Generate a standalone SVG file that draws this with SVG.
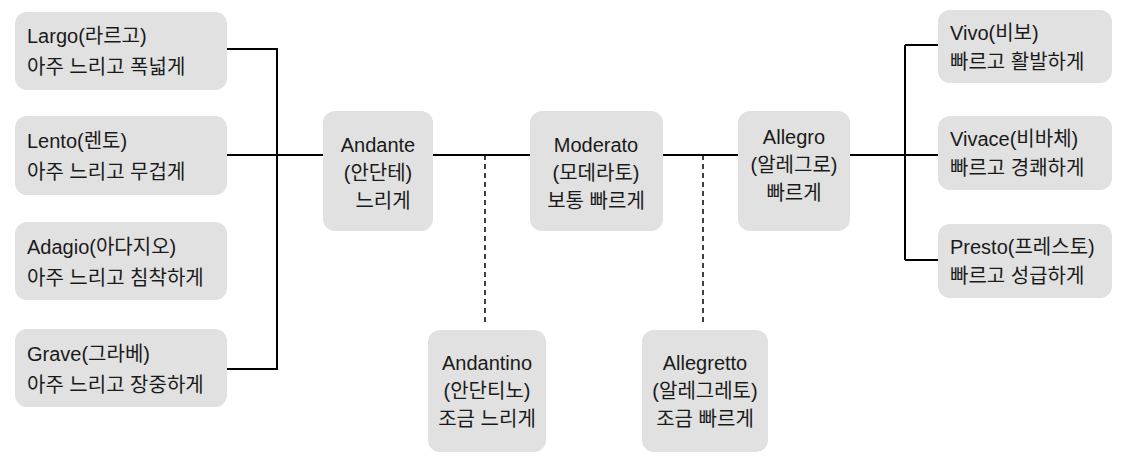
<svg xmlns="http://www.w3.org/2000/svg" width="1126" height="467" viewBox="0 0 1126 467">
<style>
.b{fill:#e1e1e1}
text{font-family:"Liberation Sans","Noto Sans CJK KR",sans-serif;font-size:20px;fill:#1a1a1a}
.c{text-anchor:middle}
.l{stroke:#000;stroke-width:2;fill:none}
.d{stroke:#000;stroke-width:1.5;stroke-dasharray:5,4;fill:none}
</style>
<rect width="1126" height="467" fill="#fff"/>
<g id="connectors">
<path class="l" d="M227 49H277V369H227M227 155H323M433 155H530M663 155H738M850 155H905M905 45V260M905 45H938M905 155H938M905 260H938"/>
<path class="d" d="M485 155V325M703 155V325"/>
</g>
<g id="largo"><rect class="b" x="15" y="12" width="212" height="78" rx="12"/><text x="27" y="43">Largo(라르고)</text><text x="27" y="74">아주 느리고 폭넓게</text></g>
<g id="lento"><rect class="b" x="15" y="116" width="212" height="79" rx="12"/><text x="27" y="148">Lento(렌토)</text><text x="27" y="179">아주 느리고 무겁게</text></g>
<g id="adagio"><rect class="b" x="15" y="222" width="212" height="78" rx="12"/><text x="27" y="254">Adagio(아다지오)</text><text x="27" y="285">아주 느리고 침착하게</text></g>
<g id="grave"><rect class="b" x="15" y="329" width="212" height="78" rx="12"/><text x="27" y="361">Grave(그라베)</text><text x="27" y="392">아주 느리고 장중하게</text></g>
<g id="andante"><rect class="b" x="323" y="111" width="110" height="120" rx="12"/><text class="c" x="378" y="152">Andante</text><text class="c" x="378" y="180">(안단테)</text><text class="c" x="383" y="208">느리게</text></g>
<g id="moderato"><rect class="b" x="530" y="111" width="133" height="120" rx="12"/><text class="c" x="596" y="152">Moderato</text><text class="c" x="596" y="180">(모데라토)</text><text class="c" x="596" y="208">보통 빠르게</text></g>
<g id="allegro"><rect class="b" x="738" y="111" width="112" height="120" rx="12"/><text class="c" x="794" y="144">Allegro</text><text class="c" x="794" y="172">(알레그로)</text><text class="c" x="794" y="200">빠르게</text></g>
<g id="andantino"><rect class="b" x="428" y="330" width="118" height="122" rx="12"/><text class="c" x="487" y="370">Andantino</text><text class="c" x="487" y="398">(안단티노)</text><text class="c" x="487" y="426">조금 느리게</text></g>
<g id="allegretto"><rect class="b" x="642" y="330" width="126" height="122" rx="12"/><text class="c" x="705" y="370">Allegretto</text><text class="c" x="705" y="398">(알레그레토)</text><text class="c" x="705" y="426">조금 빠르게</text></g>
<g id="vivo"><rect class="b" x="938" y="10" width="174" height="73" rx="12"/><text x="950" y="40">Vivo(비보)</text><text x="950" y="69">빠르고 활발하게</text></g>
<g id="vivace"><rect class="b" x="938" y="116" width="174" height="74" rx="12"/><text x="950" y="146">Vivace(비바체)</text><text x="950" y="175">빠르고 경쾌하게</text></g>
<g id="presto"><rect class="b" x="938" y="224" width="174" height="74" rx="12"/><text x="950" y="254">Presto(프레스토)</text><text x="950" y="283">빠르고 성급하게</text></g>
</svg>
